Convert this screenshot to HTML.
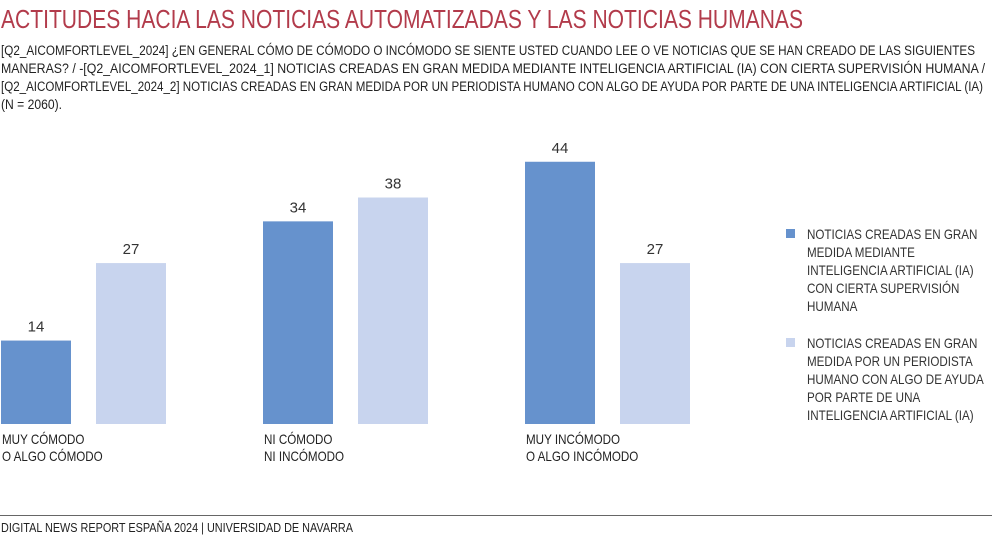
<!DOCTYPE html>
<html><head><meta charset="utf-8"><style>
body{margin:0;width:992px;height:539px;background:#fff;overflow:hidden;font-family:"Liberation Sans",sans-serif;color:#222}
svg{position:absolute;left:0;top:0}
#rule{position:absolute;left:0;top:515px;width:992px;height:1px;background:#666}
</style></head><body>
<svg id="chart" width="992" height="539" font-family="Liberation Sans, sans-serif">
<text x="1" y="28" font-size="26" fill="#b23b4b" textLength="802" lengthAdjust="spacingAndGlyphs">ACTITUDES HACIA LAS NOTICIAS AUTOMATIZADAS Y LAS NOTICIAS HUMANAS</text>
<g font-size="13.5" fill="#222">
<text x="1" y="55" textLength="974" lengthAdjust="spacingAndGlyphs">[Q2_AICOMFORTLEVEL_2024] ¿EN GENERAL CÓMO DE CÓMODO O INCÓMODO SE SIENTE USTED CUANDO LEE O VE NOTICIAS QUE SE HAN CREADO DE LAS SIGUIENTES</text>
<text x="1" y="73" textLength="984" lengthAdjust="spacingAndGlyphs">MANERAS? / -[Q2_AICOMFORTLEVEL_2024_1] NOTICIAS CREADAS EN GRAN MEDIDA MEDIANTE INTELIGENCIA ARTIFICIAL (IA) CON CIERTA SUPERVISIÓN HUMANA /</text>
<text x="1" y="91" textLength="982" lengthAdjust="spacingAndGlyphs">[Q2_AICOMFORTLEVEL_2024_2] NOTICIAS CREADAS EN GRAN MEDIDA POR UN PERIODISTA HUMANO CON ALGO DE AYUDA POR PARTE DE UNA INTELIGENCIA ARTIFICIAL (IA)</text>
<text x="1" y="109" textLength="61" lengthAdjust="spacingAndGlyphs">(N = 2060).</text>
</g>
<text x="1" y="532" font-size="12.5" fill="#222" textLength="352" lengthAdjust="spacingAndGlyphs">DIGITAL NEWS REPORT ESPAÑA 2024 | UNIVERSIDAD DE NAVARRA</text>
</svg>
<div id="rule"></div>
<script>
const categories=[["MUY CÓMODO","O ALGO CÓMODO"],["NI CÓMODO","NI INCÓMODO"],["MUY INCÓMODO","O ALGO INCÓMODO"]];
const seriesAI=[14,34,44];
const seriesHuman=[27,38,27];
const legendLabels=[["NOTICIAS CREADAS EN GRAN","MEDIDA MEDIANTE","INTELIGENCIA ARTIFICIAL (IA)","CON CIERTA SUPERVISIÓN","HUMANA"],["NOTICIAS CREADAS EN GRAN","MEDIDA POR UN PERIODISTA","HUMANO CON ALGO DE AYUDA","POR PARTE DE UNA","INTELIGENCIA ARTIFICIAL (IA)"]];
const colors=["#6692cd","#c8d4ee"];
const svg=document.getElementById('chart');
const NS='http://www.w3.org/2000/svg';
const base=424,unit=5.96,groupX=[1,263,525],barW=70,gap=95;
const y=v=>base-v*unit;
function mk(t,a){const e=document.createElementNS(NS,t);for(const k in a)e.setAttribute(k,a[k]);svg.appendChild(e);return e;}
function condense(t,r){const w=t.getComputedTextLength();t.setAttribute('textLength',w*r);t.setAttribute('lengthAdjust','spacingAndGlyphs');}
[seriesAI,seriesHuman].forEach((s,si)=>{
 s.forEach((v,i)=>{
  const x=groupX[i]+si*gap;
  const r=mk('rect',{x:x,y:y(v),width:barW,height:base-y(v),fill:colors[si]});
  
  
  const t=mk('text',{x:x+barW/2,y:y(v)-9,'text-anchor':'middle','font-size':'15','fill':'#333'});
  t.textContent=v;
  
  
 });
});
categories.forEach((c,i)=>{
 c.forEach((l,j)=>{
  const t=mk('text',{x:groupX[i]+1,y:444+j*17,'font-size':'14','fill':'#222'});
  t.textContent=l;
  
  
  condense(t,0.83);
 });
});
legendLabels.forEach((ls,si)=>{
 const y0=229+si*109;
 const r=mk('rect',{x:786,y:y0,width:9,height:9,fill:colors[si]});
 
 
 ls.forEach((l,j)=>{
  const t=mk('text',{x:807,y:y0+10+j*18,'font-size':'14','fill':'#333'});
  t.textContent=l;
  
  
  condense(t,0.83);
 });
});
</script>
</body></html>
